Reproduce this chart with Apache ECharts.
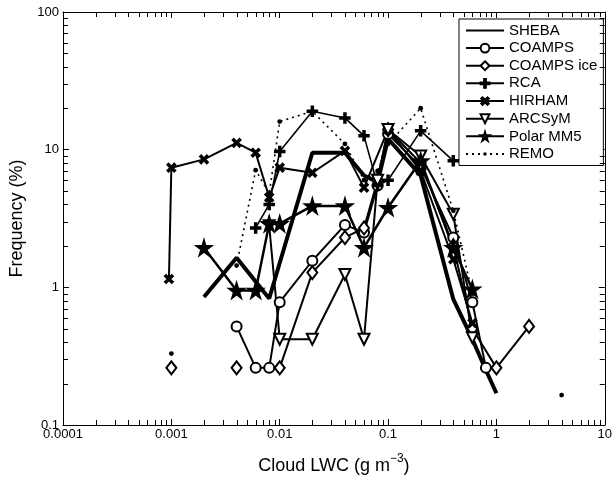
<!DOCTYPE html>
<html>
<head>
<meta charset="utf-8">
<script src="https://cdn.jsdelivr.net/npm/echarts@6/dist/echarts.min.js"></script>
<style>
  html, body { margin: 0; padding: 0; background: #fff; }
  #main { width: 615px; height: 480px; }
</style>
</head>
<body>
<div id="main"></div>
<script>
// [cloud LWC (g m-3), frequency (%)]; null = no value (gap in the line)
const sheba = [[0.002, 0.85], [0.004, 1.64], [0.008, 0.83], [0.02, 9.5], [0.04, 9.5], [0.06, 6.5], [0.08, 5.8], [0.1, 12], [0.2, 6.5], [0.4, 0.82], [0.6, 0.42], [0.8, 0.25], [1, 0.17]]
const coamps = [[0.004, 0.52], [0.006, 0.26], [0.008, 0.26], [0.01, 0.78], [0.02, 1.56], [0.04, 2.84], [0.06, 2.5], [0.08, 5.5], [0.1, 13], [0.2, 7.5], [0.4, 2.3], [0.6, 0.78], [0.8, 0.26]]
const coampsIce = [[0.001, 0.26], [0.002, null], [0.004, 0.26], [0.006, null], [0.01, 0.26], [0.02, 1.28], [0.04, 2.3], [0.06, 2.7], [0.08, 6], [0.1, 14], [0.2, 8], [0.4, 2.0], [0.6, 0.5], [1, 0.26], [2, 0.52]]
const rca = [[0.006, 2.7], [0.008, 4.0], [0.01, 9.7], [0.02, 19], [0.04, 17], [0.06, 12.6], [0.08, 5.5], [0.1, 6.0], [0.2, 13.7], [0.4, 8.3]]
const hirham = [[0.00095, 1.15], [0.001, 7.4], [0.002, 8.5], [0.004, 11.2], [0.006, 9.5], [0.008, 4.5], [0.01, 7.4], [0.02, 6.8], [0.04, 9.8], [0.06, 5.3], [0.1, 14], [0.2, 7], [0.4, 1.6], [0.6, 0.55]]
const arcsym = [[0.008, 2.8], [0.01, 0.42], [0.02, 0.42], [0.04, 1.24], [0.06, 0.42], [0.08, 6], [0.1, 14], [0.2, 9], [0.4, 3.4], [0.6, 0.43]]
const polarMM5 = [[0.002, 1.94], [0.004, 0.95], [0.006, 0.95], [0.008, 2.9], [0.01, 2.9], [0.02, 3.9], [0.04, 3.9], [0.06, 1.94], [0.1, 3.8], [0.2, 8.3], [0.4, 1.94], [0.6, 0.97]]
const remo = [[0.001, 0.33], [0.002, null], [0.004, 1.44], [0.006, 7.1], [0.008, 4.8], [0.01, 16], [0.02, 19], [0.04, 11], [0.06, 6.0], [0.08, 7], [0.1, 11], [0.2, 20], [0.4, 3.6], [0.6, 0.9], [0.8, null], [4, 0.165]]

const xTicks = [0.0001, 0.001, 0.01, 0.1, 1, 10]
const yTicks = [0.1, 1, 10, 100]

const FONT = 'Liberation Sans'
const STAR = 'path://M50,0 L61,35 L98,35 L68,57 L79,91 L50,70 L21,91 L32,57 L2,35 L39,35 Z'
const PLUS = 'path://M4,0 H6 V4 H10 V6 H6 V10 H4 V6 H0 V4 H4 Z'
// small round dot inside a larger empty box, so the legend dot stays small too
const DOT = 'path://M0,0 M10,10 M3,5 A2,2 0 1,1 7,5 A2,2 0 1,1 3,5 Z'

function pts (arr) {
  return arr.map(p => [p[0], p[1] == null ? '-' : p[1]])
}

function mk (name, data, width, symbol, size, extra) {
  return Object.assign({
    name: name,
    type: 'line',
    data: pts(data),
    xAxisIndex: 0,
    yAxisIndex: 0,
    symbol: symbol,
    symbolSize: size,
    showSymbol: symbol !== 'none',
    connectNulls: false,
    animation: false,
    lineStyle: { color: '#000', width: width },
    itemStyle: { color: '#000', borderColor: '#000', borderWidth: 1.5 },
    emphasis: { disabled: true }
  }, extra || {})
}

const chart = echarts.init(document.getElementById('main'), null, { renderer: 'canvas' })

const logAxisCommon = {
  type: 'log',
  logBase: 10,
  axisLine: { show: true, onZero: false, lineStyle: { color: '#000', width: 1 } },
  axisTick: { show: true, inside: true, length: 6, lineStyle: { color: '#000' } },
  splitLine: { show: false }
}

chart.setOption({
  backgroundColor: '#fff',
  animation: false,
  grid: { left: 63, right: 6, top: 12, bottom: 53 },
  legend: {
    orient: 'vertical',
    left: 459,
    top: 19,
    padding: [4, 6, 4, 6],
    itemWidth: 38,
    itemHeight: 11,
    itemGap: 2.6,
    backgroundColor: '#fff',
    borderColor: '#000',
    borderWidth: 1,
    borderRadius: 0,
    textStyle: { fontFamily: FONT, fontSize: 15, color: '#000' },
    data: [
      { name: 'SHEBA', itemStyle: { opacity: 0 } },
      'COAMPS', 'COAMPS ice', 'RCA', 'HIRHAM', 'ARCSyM', 'Polar MM5', 'REMO'
    ]
  },
  xAxis: [
    Object.assign({}, logAxisCommon, {
      position: 'bottom',
      min: xTicks[0],
      max: xTicks[xTicks.length - 1],
      name: '{a|Cloud LWC (g m}{s|−3}{a|)}',
      nameLocation: 'middle',
      nameGap: 28,
      nameTextStyle: {
        rich: {
          a: { fontFamily: FONT, fontSize: 18, color: '#000', verticalAlign: 'bottom', lineHeight: 22 },
          s: { fontFamily: FONT, fontSize: 12, color: '#000', verticalAlign: 'top', padding: [0, 0, 10, 0], lineHeight: 22 }
        }
      },
      axisLabel: {
        fontFamily: FONT, fontSize: 13, color: '#000', margin: 3,
        formatter: v => String(+Number(v).toPrecision(1))
      }
    }),
    Object.assign({}, logAxisCommon, {
      position: 'top',
      min: xTicks[0],
      max: xTicks[xTicks.length - 1],
      axisLabel: { show: false }
    })
  ],
  yAxis: [
    Object.assign({}, logAxisCommon, {
      position: 'left',
      min: yTicks[0],
      max: yTicks[yTicks.length - 1],
      name: 'Frequency (%)',
      nameLocation: 'middle',
      nameGap: 33,
      nameTextStyle: { fontFamily: FONT, fontSize: 18, color: '#000' },
      axisLabel: {
        fontFamily: FONT, fontSize: 13, color: '#000', margin: 4,
        formatter: v => String(+Number(v).toPrecision(1))
      }
    }),
    Object.assign({}, logAxisCommon, {
      position: 'right',
      min: yTicks[0],
      max: yTicks[yTicks.length - 1],
      axisLabel: { show: false }
    })
  ],
  series: [
    mk('SHEBA', sheba, 4, 'none', 0),
    mk('COAMPS', coamps, 2, 'emptyCircle', 10),
    mk('COAMPS ice', coampsIce, 2, 'emptyDiamond', [10, 13]),
    mk('RCA', rca, 1.6, PLUS, 10),
    mk('HIRHAM', hirham, 2, PLUS, 10, { symbolRotate: 45 }),
    mk('ARCSyM', arcsym, 2, 'emptyTriangle', 11, { symbolRotate: 180 }),
    mk('Polar MM5', polarMM5, 2.5, STAR, 16),
    mk('REMO', remo, 1.6, DOT, 12, {
      lineStyle: { color: '#000', width: 1.6, type: [2, 4] },
      itemStyle: { color: '#000', borderWidth: 0 }
    })
  ]
})

// minor log ticks (2..9 in every decade), placed through the axis scales
function minorTicks () {
  const els = []
  const len = 5
  const y0 = chart.convertToPixel({ yAxisIndex: 0 }, yTicks[0])
  const y1 = chart.convertToPixel({ yAxisIndex: 0 }, yTicks[yTicks.length - 1])
  const x0 = chart.convertToPixel({ xAxisIndex: 0 }, xTicks[0])
  const x1 = chart.convertToPixel({ xAxisIndex: 0 }, xTicks[xTicks.length - 1])
  const style = { stroke: '#000', lineWidth: 1, fill: null }
  for (let i = 0; i < xTicks.length - 1; i++) {
    for (let k = 2; k <= 9; k++) {
      const x = Math.round(chart.convertToPixel({ xAxisIndex: 0 }, xTicks[i] * k)) + 0.5
      els.push({ type: 'line', silent: true, z: 100, shape: { x1: x, y1: y0, x2: x, y2: y0 - len }, style: style })
      els.push({ type: 'line', silent: true, z: 100, shape: { x1: x, y1: y1, x2: x, y2: y1 + len }, style: style })
    }
  }
  for (let i = 0; i < yTicks.length - 1; i++) {
    for (let k = 2; k <= 9; k++) {
      const y = Math.round(chart.convertToPixel({ yAxisIndex: 0 }, yTicks[i] * k)) + 0.5
      els.push({ type: 'line', silent: true, z: 100, shape: { x1: x0, y1: y, x2: x0 + len, y2: y }, style: style })
      els.push({ type: 'line', silent: true, z: 100, shape: { x1: x1, y1: y, x2: x1 - len, y2: y }, style: style })
    }
  }
  chart.setOption({ graphic: { elements: els } })
}
minorTicks()
</script>
</body>
</html>
